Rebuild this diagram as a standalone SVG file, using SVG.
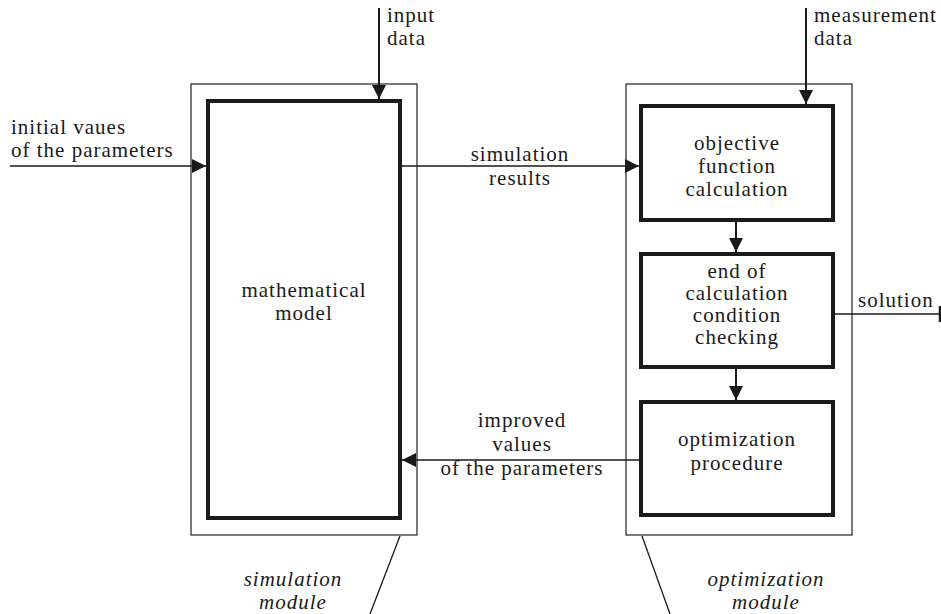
<svg xmlns="http://www.w3.org/2000/svg" width="941" height="614" viewBox="0 0 941 614">
<style>
text{font-family:'Liberation Serif','Times New Roman','DejaVu Serif',serif;font-size:21px;fill:#1a1a1a;letter-spacing:1px}
.c{text-anchor:middle}
.i{font-style:italic}
.outer{fill:none;stroke:#222;stroke-width:1.2}
.box{fill:#fff;stroke:#1a1a1a;stroke-width:4}
.ln{fill:none;stroke:#1a1a1a;stroke-width:1.3}
.ln2{fill:none;stroke:#1a1a1a;stroke-width:2}
</style>
<defs>
<marker id="ah" viewBox="0 0 10 10" refX="10" refY="5" markerWidth="14" markerHeight="14" markerUnits="userSpaceOnUse" orient="auto">
<path d="M0,0 L10,5 L0,10 z" fill="#1a1a1a"/>
</marker>
</defs>
<g id="simulation-module">
<rect class="outer" x="191" y="84" width="226" height="451"/>
</g>
<g id="optimization-module">
<rect class="outer" x="626" y="84" width="226" height="451"/>
</g>
<g id="mathematical-model">
<rect class="box" x="208" y="101" width="192" height="417"/>
<text class="c" x="304" y="297">mathematical</text>
<text class="c" x="304" y="320">model</text>
</g>
<g id="objective-function">
<rect class="box" x="641" y="106" width="192" height="114"/>
<text class="c" x="737" y="150">objective</text>
<text class="c" x="737" y="173">function</text>
<text class="c" x="737" y="196">calculation</text>
</g>
<g id="end-condition">
<rect class="box" x="641" y="254" width="192" height="113"/>
<text class="c" x="737" y="278">end of</text>
<text class="c" x="737" y="300">calculation</text>
<text class="c" x="737" y="322">condition</text>
<text class="c" x="737" y="344">checking</text>
</g>
<g id="optimization-procedure">
<rect class="box" x="641" y="402" width="192" height="113"/>
<text class="c" x="737" y="446">optimization</text>
<text class="c" x="737" y="470">procedure</text>
</g>
<g id="connectors">
<line class="ln2" x1="379" y1="8" x2="379" y2="99" marker-end="url(#ah)"/>
<line class="ln2" x1="806" y1="8" x2="806" y2="104" marker-end="url(#ah)"/>
<line class="ln" x1="10" y1="166" x2="206" y2="166" marker-end="url(#ah)"/>
<line class="ln" x1="400" y1="166" x2="639" y2="166" marker-end="url(#ah)"/>
<line class="ln2" x1="736" y1="222" x2="736" y2="252" marker-end="url(#ah)"/>
<line class="ln2" x1="736" y1="369" x2="736" y2="400" marker-end="url(#ah)"/>
<line class="ln" x1="641" y1="460" x2="402" y2="460" marker-end="url(#ah)"/>
<line class="ln" x1="833" y1="314" x2="940" y2="314"/>
<line x1="940" y1="306" x2="940" y2="322" stroke="#1a1a1a" stroke-width="2.5"/>
<line class="ln" x1="400" y1="536" x2="370" y2="614"/>
<line class="ln" x1="642" y1="536" x2="670" y2="614"/>
</g>
<g id="labels">
<text x="387" y="22">input</text>
<text x="387" y="45">data</text>
<text x="814" y="22">measurement</text>
<text x="814" y="45">data</text>
<text x="11" y="134">initial vaues</text>
<text x="11" y="157">of the parameters</text>
<text class="c" x="520" y="161">simulation</text>
<text class="c" x="520" y="185">results</text>
<text class="c" x="522" y="427">improved</text>
<text class="c" x="522" y="451">values</text>
<text class="c" x="522" y="475">of the parameters</text>
<text x="858" y="307">solution</text>
<text class="c i" x="293" y="586">simulation</text>
<text class="c i" x="293" y="609">module</text>
<text class="c i" x="766" y="586">optimization</text>
<text class="c i" x="766" y="609">module</text>
</g>
</svg>
